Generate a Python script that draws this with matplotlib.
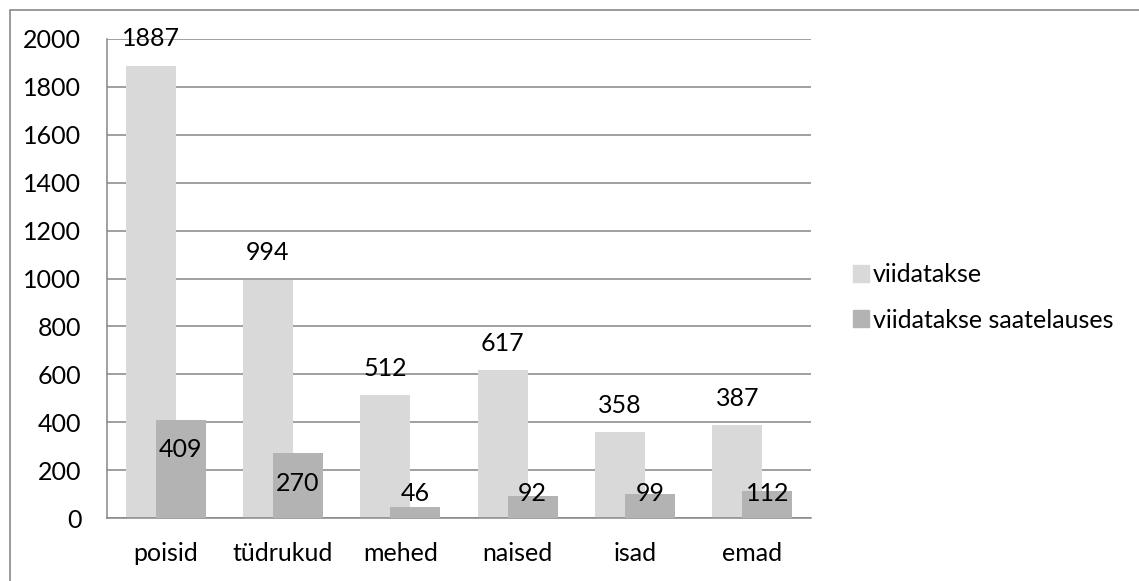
import matplotlib.pyplot as plt
from matplotlib.patches import Rectangle, Patch
import numpy as np

categories = ['poisid', 'tüdrukud', 'mehed', 'naised', 'isad', 'emad']
viidatakse = [1887, 994, 512, 617, 358, 387]
saatelauses = [409, 270, 46, 92, 99, 112]
series_names = ['viidatakse', 'viidatakse saatelauses']
yticks = [0, 200, 400, 600, 800, 1000, 1200, 1400, 1600, 1800, 2000]

light = '#d9d9d9'
dark = '#b3b3b3'
grid_col = '#868686'
fs = 18

plt.rcParams['font.family'] = ['Lato', 'DejaVu Sans']

fig = plt.figure(figsize=(11.39, 5.81), dpi=100)
fig.patches.append(Rectangle((10 / 1139, -0.1), 1.2, 0.1 + 571 / 581,
                             transform=fig.transFigure, fill=False,
                             edgecolor='#898989', lw=1.2))

ax = fig.add_axes([107 / 1139, 63 / 581, 704 / 1139, 479 / 581])

x = np.arange(len(categories))
w = 0.426
off = 0.128
ax.bar(x - off, viidatakse, w, color=light, zorder=2)
ax.bar(x + off, saatelauses, w, color=dark, zorder=3)

for xi, v in zip(x, viidatakse):
    ax.annotate(str(v), (xi - off, v), xytext=(0, 19.5), textcoords='offset points',
                ha='center', va='center', fontsize=fs)
for xi, v in zip(x, saatelauses):
    ax.text(xi + off, max(v - 125, 104), str(v), ha='center', va='center',
            fontsize=fs, zorder=4)

ax.set_xlim(-0.5, len(categories) - 0.5)
ax.set_ylim(0, 2000)
ax.set_yticks(yticks)
ax.set_xticks(x)
ax.set_xticklabels(categories)
ax.tick_params(axis='y', length=0, pad=18.5, labelsize=fs)
ax.tick_params(axis='x', length=0, pad=17, labelsize=fs)
ax.yaxis.grid(True, color=grid_col, lw=1.1, zorder=1)
ax.set_axisbelow(True)
for s in ['top', 'right']:
    ax.spines[s].set_visible(False)
for s in ['left', 'bottom']:
    ax.spines[s].set_color(grid_col)
    ax.spines[s].set_linewidth(1.1)

handles = [Patch(color=light), Patch(color=dark)]
fig.legend(handles, series_names, loc='center left',
           bbox_to_anchor=(853 / 1139, 1 - 297.5 / 581), frameon=False,
           fontsize=fs, handlelength=0.64, handleheight=0.64,
           handletextpad=0.16, labelspacing=0.88, borderpad=0,
           borderaxespad=0)

fig.savefig('out.png', dpi=100)
